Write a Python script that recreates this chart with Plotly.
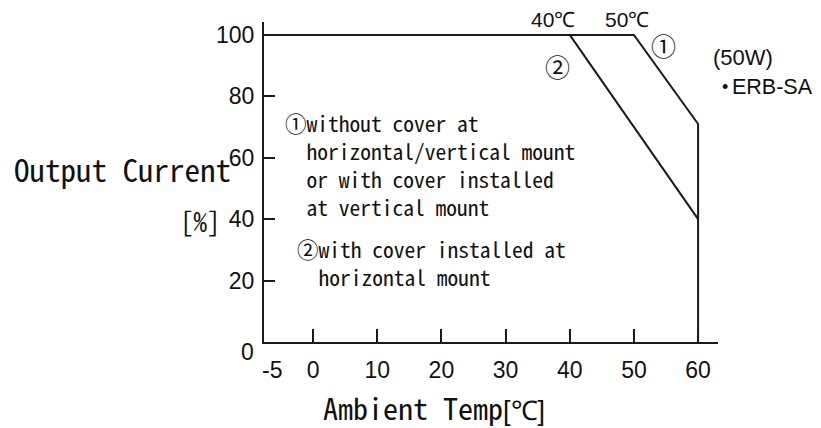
import plotly.graph_objects as go

# Data
curve1_x = [-7.64, 50, 60, 60]
curve1_y = [100, 100, 71, 0]
curve2_x = [40, 60]
curve2_y = [100, 40]

x_ticks = [0, 10, 20, 30, 40, 50, 60]
x_tick_labels = ["0", "10", "20", "30", "40", "50", "60"]
y_ticks = [20, 40, 60, 80, 100]
y_tick_labels = ["20", "40", "60", "80", "100"]

NUM_FONT = "Liberation Sans, Arial"
MONO_FONT = "Noto Sans Mono CJK JP, DejaVu Sans Mono, monospace"
LC = "#1a1a1a"
TC = "#111111"

fig = go.Figure()
fig.add_trace(go.Scatter(x=curve1_x, y=curve1_y, mode="lines",
                         line=dict(color=LC, width=2), showlegend=False, hoverinfo="skip"))
fig.add_trace(go.Scatter(x=curve2_x, y=curve2_y, mode="lines",
                         line=dict(color=LC, width=2), showlegend=False, hoverinfo="skip"))

# window has an 8px body margin
PL, PR, PT, PB = 264, 718, 22, 342
fig.update_layout(
    width=813, height=420,
    margin=dict(l=PL - 8, r=813 - (PR - 8), t=PT - 8, b=420 - (PB - 8)),
    paper_bgcolor="white", plot_bgcolor="white",
    showlegend=False,
    xaxis=dict(range=[-7.64, 63.1], showgrid=False, zeroline=False,
               showline=True, linecolor=LC, linewidth=2,
               tickmode="array", tickvals=x_ticks, ticktext=x_tick_labels,
               ticks="inside", ticklen=13, tickwidth=2, tickcolor=LC,
               ticklabelstandoff=6,
               tickfont=dict(family=NUM_FONT, size=23, color=TC)),
    yaxis=dict(range=[0, 104.2], showgrid=False, zeroline=False,
               showline=True, linecolor=LC, linewidth=2,
               tickmode="array", tickvals=y_ticks, ticktext=y_tick_labels,
               ticks="inside", ticklen=11, tickwidth=2, tickcolor=LC,
               ticklabelstandoff=3,
               tickfont=dict(family=NUM_FONT, size=23, color=TC)),
)

def px(wx, wy, text, xanchor="center", yanchor="middle", font=NUM_FONT, size=23):
    fig.add_annotation(text=text,
                       x=(wx - PL) / (PR - PL), y=(PB - wy) / (PB - PT),
                       xref="paper", yref="paper",
                       xanchor=xanchor, yanchor=yanchor, showarrow=False,
                       align="left", borderpad=0,
                       font=dict(family=font, size=size, color=TC))

# odd tick labels
px(247, 352, "0")
px(272, 370, "-5")

# top labels
px(553, 20, "40℃", size=21)
px(627, 20, "50℃", size=21)
px(663, 45, "①", font=MONO_FONT, size=25)
px(557, 66, "②", font=MONO_FONT, size=25)
px(712, 57, "(50W)", xanchor="left", size=22)
px(725, 87, "•", size=18)
px(731, 87, "ERB-SA", xanchor="left", size=21.5)

# axis titles
px(13, 168, "Output Current", xanchor="left", font=MONO_FONT, size=31)
px(222, 220, "[%]", xanchor="right", font=MONO_FONT, size=27)
px(322, 407, "Ambient Temp<span style='font-family:Liberation Sans, Arial;font-size:27px'>[℃]</span>",
   xanchor="left", font=MONO_FONT, size=30)

# notes
note1 = ["①without cover at", "  horizontal/vertical mount", "  or with cover installed", "  at vertical mount"]
note2 = ["②with cover installed at", "  horizontal mount"]
px(284, 164, "<br>".join(note1), xanchor="left", font=MONO_FONT, size=21.5)
px(296, 262, "<br>".join(note2), xanchor="left", font=MONO_FONT, size=21.5)

fig.write_html("out.html")
